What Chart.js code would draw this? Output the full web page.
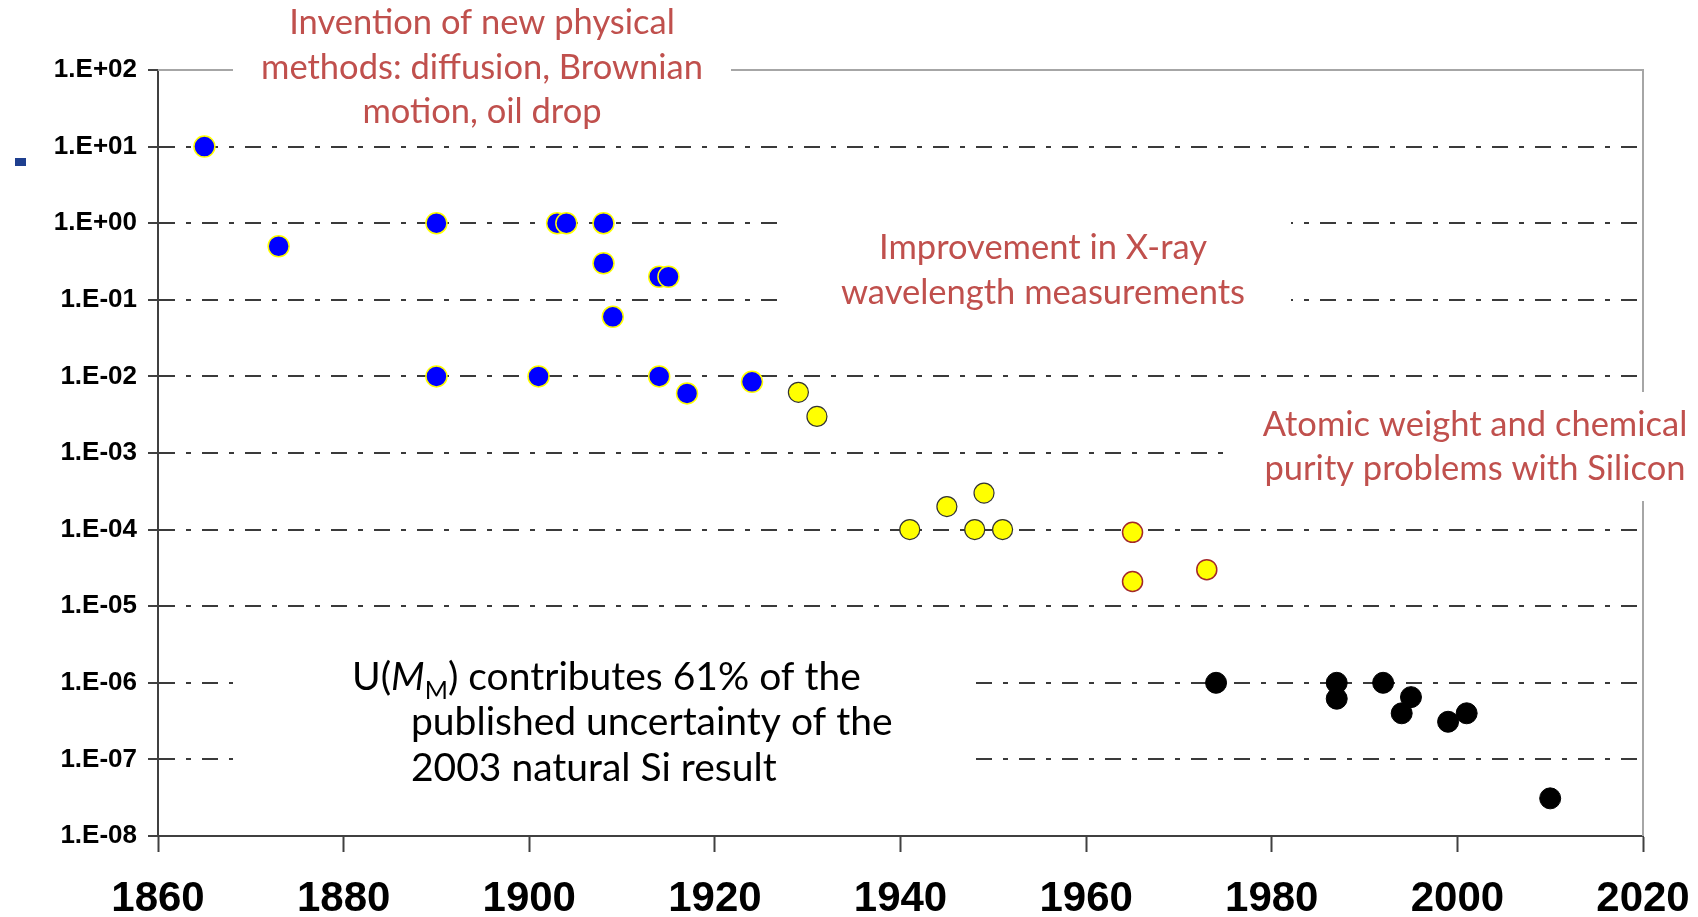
<!DOCTYPE html>
<html>
<head>
<meta charset="utf-8">
<script src="https://cdn.jsdelivr.net/npm/chart.js@4"></script>
<style>
html,body{margin:0;padding:0;background:#fff;overflow:hidden}
#wrap{position:relative;width:1698px;height:917px}
#legendMark{position:absolute;left:15px;top:158px;width:11px;height:8px;background:#1f3f8f}
</style>
</head>
<body>
<div id="wrap">
  <canvas id="chart" width="1698" height="917"></canvas>
  <div id="legendMark"></div>
</div>
<script>
// data (year, relative uncertainty)
const blueYears  = [1865, 1873, 1890, 1903, 1904, 1908, 1908, 1914, 1915, 1909, 1890, 1901, 1914, 1917, 1924];
const blueValues = [10, 0.5, 1, 1, 1, 1, 0.3, 0.2, 0.2, 0.06, 0.01, 0.01, 0.01, 0.006, 0.0085];

const yellowYears  = [1929, 1931, 1941, 1945, 1948, 1949, 1951];
const yellowValues = [0.0062, 0.003, 1e-4, 2e-4, 1e-4, 3e-4, 1e-4];

const redYears  = [1965, 1965, 1973];
const redValues = [9.2e-5, 2.1e-5, 3e-5];

const blackYears  = [1974, 1987, 1987, 1992, 1994, 1995, 1999, 2001, 2010];
const blackValues = [1e-6, 1e-6, 6.2e-7, 1e-6, 4e-7, 6.5e-7, 3.1e-7, 4e-7, 3.1e-8];

const xTicks = [1860, 1880, 1900, 1920, 1940, 1960, 1980, 2000, 2020];
const yTicks = [1e-8, 1e-7, 1e-6, 1e-5, 1e-4, 1e-3, 1e-2, 1e-1, 1, 10, 100];
const yTickLabels = ["1.E-08","1.E-07","1.E-06","1.E-05","1.E-04","1.E-03","1.E-02","1.E-01","1.E+00","1.E+01","1.E+02"];

const notes = [
  { lines: ["Invention of new physical", "methods: diffusion, Brownian", "motion, oil drop"] },
  { lines: ["Improvement in X-ray", "wavelength measurements"] },
  { lines: ["Atomic weight and chemical", "purity problems with Silicon"] },
  { lines: ["contributes 61% of the", "published uncertainty of the", "2003 natural Si result"] }
];

const pts = (xs, ys) => xs.map((x, i) => ({ x, y: ys[i] }));

const RED = "#c0504d";
const TXT = "Lato, 'Open Sans', sans-serif";

// white note boxes that hide the grid, then the note texts
const notesPlugin = {
  id: "notes",
  beforeDatasetsDraw(chart){
    const ctx = chart.ctx, a = chart.chartArea;
    ctx.save();
    // frame top / right
    ctx.strokeStyle = "#a6a6a6";
    ctx.lineWidth = 2;
    ctx.beginPath();
    ctx.moveTo(a.left, a.top); ctx.lineTo(a.right, a.top); ctx.lineTo(a.right, a.bottom);
    ctx.stroke();
    // boxes
    ctx.fillStyle = "#fff";
    ctx.fillRect(233, 0, 498, 132);
    ctx.fillRect(787, 200, 504, 140);
    ctx.fillRect(1224, 392, 474, 109);
    ctx.fillRect(233, 640, 738, 160);
    ctx.restore();
  },
  afterDraw(chart){
    const ctx = chart.ctx;
    ctx.save();
    ctx.textBaseline = "alphabetic";
    ctx.fillStyle = RED;
    ctx.font = "34.5px " + TXT;
    ctx.textAlign = "center";
    notes[0].lines.forEach((t, i) => ctx.fillText(t, 482, 34 + i * 44.5));
    notes[1].lines.forEach((t, i) => ctx.fillText(t, 1043, 259 + i * 45));
    notes[2].lines.forEach((t, i) => ctx.fillText(t, 1475, 436 + i * 44));

    // U(M_M) note
    ctx.fillStyle = "#000";
    ctx.textAlign = "left";
    const big = "39px " + TXT;
    let x = 352, y = 690;
    ctx.font = big;
    ctx.fillText("U(", x, y); x += ctx.measureText("U(").width;
    ctx.font = "italic " + big;
    ctx.fillText("M", x, y); x += ctx.measureText("M").width;
    ctx.font = "25px " + TXT;
    ctx.fillText("M", x, y + 9); x += ctx.measureText("M").width;
    ctx.font = big;
    ctx.fillText(") " + notes[3].lines[0], x, y);
    ctx.fillText(notes[3].lines[1], 411, 735);
    ctx.fillText(notes[3].lines[2], 411, 781);
    ctx.restore();
  }
};

new Chart(document.getElementById("chart"), {
  type: "scatter",
  data: {
    datasets: [
      { data: pts(blueYears, blueValues), backgroundColor: "#0000ff", borderColor: "#ffff00", borderWidth: 1.5, pointRadius: 10.5 },
      { data: pts(yellowYears, yellowValues), backgroundColor: "#ffff00", borderColor: "#333", borderWidth: 1.2, pointRadius: 10 },
      { data: pts(redYears, redValues), backgroundColor: "#ffff00", borderColor: "#a3282a", borderWidth: 1.5, pointRadius: 10 },
      { data: pts(blackYears, blackValues), backgroundColor: "#000", borderColor: "#000", borderWidth: 1, pointRadius: 10.5 }
    ]
  },
  options: {
    responsive: false,
    devicePixelRatio: 1,
    animation: false,
    events: [],
    layout: { padding: { left: 0, top: 70, right: 55, bottom: 0 } },
    plugins: { legend: { display: false }, tooltip: { enabled: false } },
    scales: {
      x: {
        type: "linear", min: 1860, max: 2020,
        afterBuildTicks: s => { s.ticks = xTicks.map(v => ({ value: v })); },
        afterFit: s => { s.height = 81; s.paddingLeft = 0; s.paddingRight = 0; },
        ticks: { callback: v => String(v), color: "#000", padding: 22, maxRotation: 0,
                 font: { family: "'Liberation Sans', Arial, sans-serif", size: 42, weight: "bold" } },
        grid: { drawOnChartArea: false, color: "#404040", tickLength: 16, tickWidth: 2 },
        border: { color: "#404040", width: 2 }
      },
      y: {
        type: "logarithmic", min: 1e-8, max: 100,
        afterBuildTicks: s => { s.ticks = yTicks.map(v => ({ value: v })); },
        afterFit: s => { s.width = 158; s.paddingTop = 0; s.paddingBottom = 0; },
        ticks: { callback: (v, i) => yTickLabels[i], color: "#000", padding: 11,
                 font: { family: "'Liberation Sans', Arial, sans-serif", size: 26, weight: "bold" } },
        grid: {
          color: c => (c.tick && (c.tick.value === 100 || c.tick.value === 1e-8)) ? "rgba(0,0,0,0)" : "#3a3a3a",
          lineWidth: 2, tickLength: 10, tickColor: "#404040", tickWidth: 2
        },
        border: { color: "#404040", width: 2, dash: [16, 11, 5, 11] }
      }
    }
  },
  plugins: [notesPlugin]
});
</script>
</body>
</html>
